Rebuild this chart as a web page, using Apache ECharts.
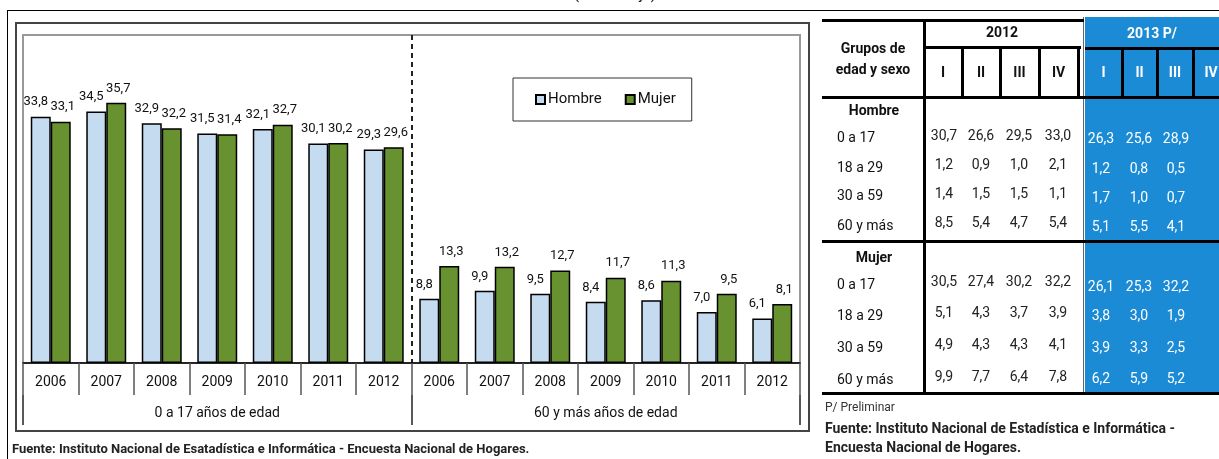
<!DOCTYPE html>
<html>
<head>
<meta charset="utf-8">
<script src="https://cdn.jsdelivr.net/npm/echarts@6/dist/echarts.min.js"></script>
<style>
html,body{margin:0;padding:0;background:#fff;overflow:hidden;width:1219px;height:459px;}
#chart{position:absolute;left:0;top:0;width:1219px;height:459px;}
.ln{position:absolute;}
.tx{position:absolute;white-space:nowrap;}
#ov{position:absolute;left:0;top:0;width:1219px;height:459px;}
</style>
</head>
<body>
<div id="frames"></div>
<div id="chart"></div>
<div id="ov"></div>
<script>
// ---- Chart data ----
const yearLabels = ['2006','2007','2008','2009','2010','2011','2012','2006','2007','2008','2009','2010','2011','2012'];
const groupLabels = ['0 a 17 años de edad', '60 y más años de edad'];
const hombre = [33.8, 34.5, 32.9, 31.5, 32.1, 30.1, 29.3, 8.8, 9.9, 9.5, 8.4, 8.6, 7.0, 6.1];
const mujer  = [33.1, 35.7, 32.2, 31.4, 32.7, 30.2, 29.6, 13.3, 13.2, 12.7, 11.7, 11.3, 9.5, 8.1];
const seriesNames = ['Hombre', 'Mujer'];

// ---- Table data ----
const quarters = ['I', 'II', 'III', 'IV'];
const ageGroups = ['0 a 17', '18 a 29', '30 a 59', '60 y más'];
const hombre2012 = [[30.7, 26.6, 29.5, 33.0], [1.2, 0.9, 1.0, 2.1], [1.4, 1.5, 1.5, 1.1], [8.5, 5.4, 4.7, 5.4]];
const hombre2013 = [[26.3, 25.6, 28.9], [1.2, 0.8, 0.5], [1.7, 1.0, 0.7], [5.1, 5.5, 4.1]];
const mujer2012  = [[30.5, 27.4, 30.2, 32.2], [5.1, 4.3, 3.7, 3.9], [4.9, 4.3, 4.3, 4.1], [9.9, 7.7, 6.4, 7.8]];
const mujer2013  = [[26.1, 25.3, 32.2], [3.8, 3.0, 1.9], [3.9, 3.3, 2.5], [6.2, 5.9, 5.2]];

const FONT = "Roboto,'Liberation Sans',sans-serif";
const fmt = v => v.toFixed(1).replace('.', ',');

// ---- frames ----
const frames = document.getElementById('frames');
function line(parent, x, y, w, h, c) {
  const d = document.createElement('div'); d.className = 'ln';
  d.style.cssText = `left:${x}px;top:${y}px;width:${w}px;height:${h}px;background:${c};`;
  parent.appendChild(d); return d;
}
function text(parent, s, cx, cy, o) {
  o = o || {};
  const d = document.createElement('div'); d.className = 'tx';
  const lh = o.lh || 18;
  const align = o.align || 'center';
  d.style.cssText = `top:${cy - lh/2}px;line-height:${lh}px;font-family:${FONT};font-size:${o.size||14}px;` +
    `font-weight:${o.bold ? 'bold' : 'normal'};color:${o.color||'#111'};text-align:${align};`;
  if (align === 'center') { d.style.left = (cx - 100) + 'px'; d.style.width = '200px'; }
  else { d.style.left = cx + 'px'; }
  d.textContent = s;
  parent.appendChild(d); return d;
}
line(frames, 7, 10, 1212, 1, '#000');
line(frames, 7, 10, 1, 449, '#000');
const box = document.createElement('div');
box.style.cssText = 'position:absolute;left:15px;top:22px;width:795px;height:410px;border:2px solid #444;box-sizing:border-box;';
frames.appendChild(box);

// ---- chart ----
const chart = echarts.init(document.getElementById('chart'), null, {renderer: 'canvas'});
const labelCommon = {show: true, position: 'top', distance: 8, fontSize: 13, color: '#111', fontFamily: FONT,
  formatter: p => fmt(p.value)};
chart.setOption({
  animation: false,
  backgroundColor: 'transparent',
  textStyle: {fontFamily: FONT},
  title: [
    {text: '(Porcentaje)', left: 574, top: -12, padding: 0,
     textStyle: {fontSize: 15, fontWeight: 'normal', color: '#111', fontFamily: FONT}},
    {text: 'Fuente: Instituto Nacional de Esatadística e Informática - Encuesta Nacional de Hogares.', left: 12, top: 443, padding: 0,
     textStyle: {fontSize: 13, fontWeight: 'bold', color: '#222', fontFamily: FONT}}
  ],
  legend: {
    data: seriesNames, left: 513, top: 78, orient: 'horizontal',
    padding: [14, 16, 14, 22], itemGap: 23, itemWidth: 9, itemHeight: 9, icon: 'rect',
    borderColor: '#333', borderWidth: 1, backgroundColor: '#fff',
    textStyle: {fontSize: 15, color: '#111', fontFamily: FONT, padding: [0, 0, 0, -2]}
  },
  grid: {left: 23, top: 35, width: 777, height: 328, show: true, borderColor: '#999', borderWidth: 2, backgroundColor: '#fff', containLabel: false},
  xAxis: [
    {type: 'category', data: yearLabels, position: 'bottom',
     axisLine: {show: true, lineStyle: {color: '#000', width: 1.5}},
     axisTick: {show: true, length: 32, alignWithLabel: false, interval: 0, lineStyle: {color: '#555', width: 1.5}},
     axisLabel: {interval: 0, margin: 12, fontSize: 14, color: '#111', fontFamily: FONT},
     splitLine: {show: false}},
    {type: 'category', data: groupLabels, position: 'bottom', offset: 32,
     axisLine: {show: false},
     axisTick: {show: true, length: 30, interval: 0, lineStyle: {color: '#222', width: 1.5}},
     axisLabel: {interval: 0, margin: 11, fontSize: 14, color: '#111', fontFamily: FONT},
     splitLine: {show: true, interval: 0, lineStyle: {color: ['transparent', '#222'], type: [5, 4], width: 2}}}
  ],
  yAxis: {type: 'value', min: 0, max: 45, show: false, splitLine: {show: false}},
  series: [
    {name: seriesNames[0], type: 'bar', xAxisIndex: 0, data: hombre, barGap: '0%', barCategoryGap: '28%',
     itemStyle: {color: '#C5DBF0', borderColor: '#000', borderWidth: 1.5},
     label: Object.assign({}, labelCommon, {offset: [-5, 0]})},
    {name: seriesNames[1], type: 'bar', xAxisIndex: 0, data: mujer, barGap: '0%', barCategoryGap: '28%',
     itemStyle: {color: '#67922F', borderColor: '#000', borderWidth: 1.5},
     label: Object.assign({}, labelCommon, {offset: [2, 0]})}
  ]
});

// ---- table (HTML overlay) ----
const ov = document.getElementById('ov');
const BLUE = '#1C8BD6';
const c2012 = [924, 962, 1000, 1039, 1078];
const c2013 = [1085, 1122, 1157, 1193, 1229];
line(ov, 1085, 17, 134, 376, BLUE);
line(ov, 1083, 17, 1, 376, '#666');
line(ov, 822, 19, 262, 3, '#000');
line(ov, 822, 96, 397, 3, '#000');
line(ov, 822, 240, 397, 3, '#000');
line(ov, 822, 392, 397, 3, '#000');
line(ov, 923, 19, 3, 376, '#000');
line(ov, 923, 46, 158, 3, '#000');
c2012.forEach(x => line(ov, x - 1, 46, 3, 52, '#000'));
line(ov, 1085, 47, 134, 3, '#000');
c2013.slice(1).forEach(x => line(ov, x - 1, 47, 3, 51, '#000'));
text(ov, 'Grupos de', 873, 48, {bold: true, size: 14});
text(ov, 'edad y sexo', 873, 69, {bold: true, size: 14});
text(ov, '2012', 1002, 32, {bold: true, size: 14});
text(ov, '2013 P/', 1152, 33, {bold: true, size: 14, color: '#fff'});
quarters.forEach((q, i) => {
  text(ov, q, (c2012[i] + c2012[i + 1]) / 2, 72, {bold: true, size: 14});
  text(ov, q, (c2013[i] + c2013[i + 1]) / 2, 72, {bold: true, size: 14, color: '#fff'});
});
const valX2012 = [944, 981, 1019, 1058];
const valX2013 = [1101, 1139, 1176, 1212];
function section(title, titleY, labelYs, v12Ys, v13Ys, d12, d13) {
  text(ov, title, 874, titleY, {bold: true, size: 14});
  ageGroups.forEach((g, r) => {
    text(ov, g, 837, labelYs[r], {size: 14, align: 'left'});
    d12[r].forEach((v, c) => text(ov, fmt(v), valX2012[c], v12Ys[r], {size: 14, color: '#222'}));
    d13[r].forEach((v, c) => text(ov, fmt(v), valX2013[c], v13Ys[r], {size: 14, color: '#fff'}));
  });
}
section('Hombre', 110, [137, 167, 195, 225], [135, 164, 193, 222], [138, 168, 197, 226], hombre2012, hombre2013);
section('Mujer', 257, [284, 315, 347, 379], [281, 312, 344, 376], [286, 315, 347, 378], mujer2012, mujer2013);
text(ov, 'P/ Preliminar', 825, 407, {size: 12, align: 'left', color: '#333'});
text(ov, 'Fuente: Instituto Nacional de Estadística e Informática -', 825, 428, {size: 14, bold: true, align: 'left', color: '#222'});
text(ov, 'Encuesta Nacional de Hogares.', 825, 447, {size: 14, bold: true, align: 'left', color: '#222'});
</script>
</body>
</html>
